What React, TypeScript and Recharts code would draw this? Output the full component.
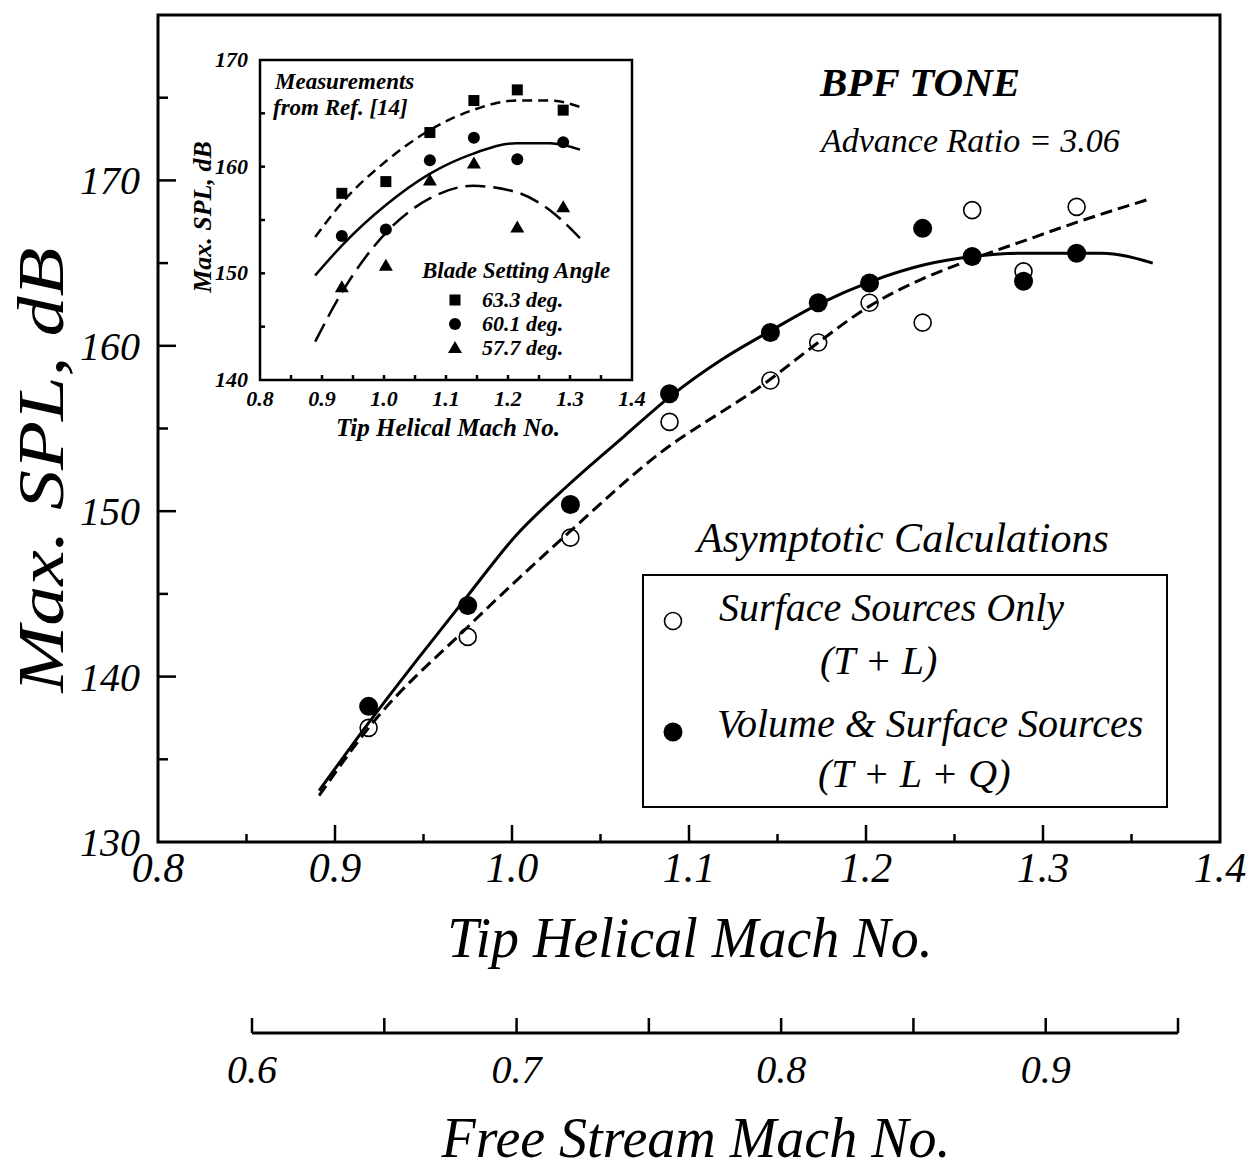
import React from 'react';
import { ComposedChart, Line, Scatter, XAxis, YAxis, ReferenceArea, Legend } from 'recharts';

const FONT = '"Liberation Serif", "Times New Roman", serif';

// main plot: asymptotic calculations, BPF tone
const tipMach = [0.919, 0.975, 1.033, 1.089, 1.146, 1.173, 1.202, 1.232, 1.26, 1.289, 1.319];
const surfaceOnlySpl = [136.9, 142.4, 148.4, 155.4, 157.9, 160.2, 162.6, 161.4, 168.2, 164.5, 168.4];
const volumeSurfaceSpl = [138.2, 144.3, 150.4, 157.1, 160.8, 162.6, 163.8, 167.1, 165.4, 163.9, 165.6];

// fitted curves drawn through the points
const solidFitMach = [0.891, 0.919, 0.947, 0.975, 1.002, 1.032, 1.063, 1.089, 1.119, 1.146, 1.173, 1.203, 1.233, 1.26, 1.288, 1.32, 1.333, 1.362];
const solidFitSpl = [133.1, 137.2, 141.1, 144.9, 148.5, 151.6, 154.5, 156.9, 159.2, 160.9, 162.5, 163.9, 164.9, 165.4, 165.6, 165.6, 165.6, 165.0];
const dashedFitMach = [0.891, 0.919, 0.975, 1.032, 1.081, 1.145, 1.173, 1.202, 1.231, 1.259, 1.288, 1.32, 1.361];
const dashedFitSpl = [132.8, 136.9, 143.0, 148.7, 153.3, 157.9, 160.2, 162.4, 164.0, 165.2, 166.3, 167.5, 168.9];

const mainXTicks = [0.8, 0.85, 0.9, 0.95, 1.0, 1.05, 1.1, 1.15, 1.2, 1.25, 1.3, 1.35, 1.4];
const mainXLabels = [0.8, 0.9, 1.0, 1.1, 1.2, 1.3, 1.4];
const mainYTicks = [130, 135, 140, 145, 150, 155, 160, 165, 170, 175];
const mainYLabels = [130, 140, 150, 160, 170];

const freeStreamTicks = [0.6, 0.65, 0.7, 0.75, 0.8, 0.85, 0.9, 0.95];
const freeStreamLabels = [0.6, 0.7, 0.8, 0.9];

// inset: measurements from Ref. [14]
const insetMach = [0.932, 1.003, 1.074, 1.145, 1.215, 1.289];
const angle633Spl = [157.5, 158.6, 163.2, 166.2, 167.2, 165.3];
const angle601Spl = [153.5, 154.1, 160.6, 162.7, 160.7, 162.3];
const angle577Spl = [148.7, 150.7, 158.7, 160.3, 154.3, 156.2];

const fitMach = [0.889, 0.932, 1.003, 1.073, 1.143, 1.214, 1.268, 1.316];
const fit633Spl = [153.4, 156.6, 160.5, 163.4, 165.3, 166.2, 166.2, 165.6];
const fit601Spl = [149.8, 152.6, 156.4, 159.3, 161.2, 162.2, 162.2, 161.6];
const fit577Spl = [143.6, 148.2, 153.8, 157.0, 158.2, 157.6, 155.9, 153.3];

const insetYTicks = [140, 145, 150, 155, 160, 165, 170];
const insetYLabels = [140, 150, 160, 170];

const pairs = (xs: number[], ys: number[]) => xs.map((mach, i) => ({ mach, spl: ys[i] }));

const surfaceOnlyData = pairs(tipMach, surfaceOnlySpl);
const volumeSurfaceData = pairs(tipMach, volumeSurfaceSpl);
const solidFitData = pairs(solidFitMach, solidFitSpl);
const dashedFitData = pairs(dashedFitMach, dashedFitSpl);
const angle633Data = pairs(insetMach, angle633Spl);
const angle601Data = pairs(insetMach, angle601Spl);
const angle577Data = pairs(insetMach, angle577Spl);
const fit633Data = pairs(fitMach, fit633Spl);
const fit601Data = pairs(fitMach, fit601Spl);
const fit577Data = pairs(fitMach, fit577Spl);
const freeStreamData = freeStreamTicks.map((fs) => ({ fs }));

const has = (list: number[], v: number) => list.some((t) => Math.abs(t - v) < 1e-6);

const txt = (size: number, bold = false) => ({
  fontFamily: FONT,
  fontStyle: 'italic' as const,
  fontWeight: bold ? 700 : 400,
  fontSize: size,
  fill: '#000',
});

// ticks point into the plot, labels sit outside
function BottomTick(props: any) {
  const { x, y, payload, labels, edges, major, minor, fontSize, offset, bold, width } = props;
  const v = payload.value;
  const isMajor = has(labels, v);
  return (
    <g>
      {!has(edges, v) && (
        <line x1={x} x2={x} y1={y} y2={y - (isMajor ? major : minor)} stroke="#000" strokeWidth={width} />
      )}
      {isMajor && (
        <text x={x} y={y + offset} textAnchor="middle" {...txt(fontSize, bold)}>
          {v.toFixed(1)}
        </text>
      )}
    </g>
  );
}

function LeftTick(props: any) {
  const { x, y, payload, labels, edges, major, minor, fontSize, gap, dy, bold, width } = props;
  const v = payload.value;
  const isMajor = has(labels, v);
  return (
    <g>
      {!has(edges, v) && (
        <line x1={x} x2={x + (isMajor ? major : minor)} y1={y} y2={y} stroke="#000" strokeWidth={width} />
      )}
      {isMajor && (
        <text x={x - gap} y={y + dy} textAnchor="end" {...txt(fontSize, bold)}>
          {v}
        </text>
      )}
    </g>
  );
}

const OpenDot = (p: any) => <circle cx={p.cx} cy={p.cy} r={8.5} fill="none" stroke="#000" strokeWidth={1.6} />;
const FilledDot = (p: any) => <circle cx={p.cx} cy={p.cy} r={9.5} fill="#000" />;
const SquareMark = (p: any) => <rect x={p.cx - 5.5} y={p.cy - 5.5} width={11} height={11} fill="#000" />;
const CircleMark = (p: any) => <circle cx={p.cx} cy={p.cy} r={6} fill="#000" />;
const TriangleMark = (p: any) => (
  <polygon points={`${p.cx},${p.cy - 7} ${p.cx + 7},${p.cy + 5} ${p.cx - 7},${p.cy + 5}`} fill="#000" />
);

const MainLegend = () => (
  <svg width={528} height={236} style={{ display: 'block' }}>
    <rect x={1} y={1} width={524} height={232} fill="none" stroke="#000" strokeWidth={2} />
    <circle cx={31} cy={47} r={8.5} fill="none" stroke="#000" strokeWidth={1.6} />
    <text x={77} y={47} {...txt(40)}>Surface Sources Only</text>
    <text x={178} y={100} {...txt(40)}>(T + L)</text>
    <circle cx={31} cy={158} r={9.5} fill="#000" />
    <text x={75} y={163} {...txt(40)}>Volume &amp; Surface Sources</text>
    <text x={176} y={213} {...txt(40)}>(T + L + Q)</text>
  </svg>
);

const InsetLegend = () => (
  <svg width={210} height={110} style={{ display: 'block' }}>
    <text x={7} y={23} {...txt(23, true)}>Blade Setting Angle</text>
    <rect x={34.5} y={39.5} width={11} height={11} fill="#000" />
    <text x={67} y={52} {...txt(22, true)}>63.3  deg.</text>
    <circle cx={40} cy={69} r={6} fill="#000" />
    <text x={67} y={76} {...txt(22, true)}>60.1  deg.</text>
    <polygon points="40,86 47,98 33,98" fill="#000" />
    <text x={67} y={100} {...txt(22, true)}>57.7  deg.</text>
  </svg>
);

function MainChart() {
  return (
    <ComposedChart width={1260} height={1168} margin={{ top: 15, right: 40, bottom: 266, left: 58 }}>
      <XAxis
        dataKey="mach"
        type="number"
        domain={[0.8, 1.4]}
        ticks={mainXTicks}
        interval={0}
        height={60}
        tickSize={0}
        tickMargin={0}
        axisLine={false}
        tickLine={false}
        tick={<BottomTick labels={mainXLabels} edges={[0.8, 1.4]} major={17} minor={8} fontSize={42} offset={40} width={2.5} />}
      />
      <YAxis
        dataKey="spl"
        type="number"
        domain={[130, 180]}
        ticks={mainYTicks}
        interval={0}
        width={100}
        tickSize={0}
        tickMargin={0}
        axisLine={false}
        tickLine={false}
        tick={<LeftTick labels={mainYLabels} edges={[130]} major={18} minor={10} fontSize={40} gap={18} dy={14} width={2.5} />}
      />
      <ReferenceArea x1={0.8} x2={1.4} y1={130} y2={180} fill="none" stroke="#000" strokeWidth={3} />
      <Line data={solidFitData} dataKey="spl" type="monotone" stroke="#000" strokeWidth={3} dot={false} legendType="none" isAnimationActive={false} />
      <Line data={dashedFitData} dataKey="spl" type="monotone" stroke="#000" strokeWidth={3} strokeDasharray="12 6" dot={false} legendType="none" isAnimationActive={false} />
      <Scatter name="Volume & Surface Sources (T + L + Q)" data={volumeSurfaceData} dataKey="spl" shape={FilledDot} isAnimationActive={false} />
      <Scatter name="Surface Sources Only (T + L)" data={surfaceOnlyData} dataKey="spl" shape={OpenDot} isAnimationActive={false} />
      <Legend
        layout="horizontal"
        verticalAlign="middle"
        align="center"
        content={() => <MainLegend />}
        wrapperStyle={{ position: 'absolute', left: 642, top: 574, width: 528, height: 236 }}
      />
      <text x={820} y={96} {...txt(41, true)}>BPF TONE</text>
      <text x={821} y={152} {...txt(34)}>Advance Ratio = 3.06</text>
      <text x={697} y={552} {...txt(42)}>Asymptotic Calculations</text>
      <text x={690} y={957} textAnchor="middle" {...txt(56)}>Tip Helical Mach No.</text>
      <text
        transform="translate(63, 470) rotate(-90)"
        textAnchor="middle"
        textLength={445}
        lengthAdjust="spacingAndGlyphs"
        {...txt(66)}
      >
        Max. SPL, dB
      </text>
    </ComposedChart>
  );
}

function FreeStreamAxis() {
  return (
    <ComposedChart width={1260} height={210} data={freeStreamData} margin={{ top: 10, right: 82, bottom: 0, left: 252 }}>
      <XAxis
        dataKey="fs"
        type="number"
        domain={[0.6, 0.95]}
        ticks={freeStreamTicks}
        interval={0}
        height={135}
        tickSize={0}
        tickMargin={0}
        axisLine={{ stroke: '#000', strokeWidth: 3 }}
        tickLine={false}
        tick={<BottomTick labels={freeStreamLabels} edges={[]} major={15} minor={15} fontSize={40} offset={50} width={2.5} />}
      />
      <YAxis hide domain={[0, 1]} />
      <text x={696} y={199} textAnchor="middle" {...txt(56)}>Free Stream Mach No.</text>
    </ComposedChart>
  );
}

function InsetChart() {
  return (
    <ComposedChart width={520} height={420} margin={{ top: 20, right: 38, bottom: 40, left: 50 }}>
      <XAxis
        dataKey="mach"
        type="number"
        domain={[0.8, 1.4]}
        ticks={mainXTicks}
        interval={0}
        height={40}
        tickSize={0}
        tickMargin={0}
        axisLine={false}
        tickLine={false}
        tick={<BottomTick labels={mainXLabels} edges={[0.8, 1.4]} major={5} minor={5} fontSize={22} offset={26} bold width={2.5} />}
      />
      <YAxis
        dataKey="spl"
        type="number"
        domain={[140, 170]}
        ticks={insetYTicks}
        interval={0}
        width={60}
        tickSize={0}
        tickMargin={0}
        axisLine={false}
        tickLine={false}
        tick={<LeftTick labels={insetYLabels} edges={[140, 170]} major={5} minor={5} fontSize={22} gap={12} dy={7} bold width={2.5} />}
      />
      <ReferenceArea x1={0.8} x2={1.4} y1={140} y2={170} fill="none" stroke="#000" strokeWidth={2.5} />
      <Line data={fit633Data} dataKey="spl" type="monotone" stroke="#000" strokeWidth={2.5} strokeDasharray="10 6" dot={false} legendType="none" isAnimationActive={false} />
      <Line data={fit601Data} dataKey="spl" type="monotone" stroke="#000" strokeWidth={2.5} dot={false} legendType="none" isAnimationActive={false} />
      <Line data={fit577Data} dataKey="spl" type="monotone" stroke="#000" strokeWidth={2.5} strokeDasharray="20 8" dot={false} legendType="none" isAnimationActive={false} />
      <Scatter name="63.3 deg." data={angle633Data} dataKey="spl" shape={SquareMark} isAnimationActive={false} />
      <Scatter name="60.1 deg." data={angle601Data} dataKey="spl" shape={CircleMark} isAnimationActive={false} />
      <Scatter name="57.7 deg." data={angle577Data} dataKey="spl" shape={TriangleMark} isAnimationActive={false} />
      <Legend
        layout="horizontal"
        verticalAlign="middle"
        align="center"
        content={() => <InsetLegend />}
        wrapperStyle={{ position: 'absolute', left: 265, top: 215, width: 210, height: 110 }}
      />
      <text x={125} y={49} {...txt(23, true)}>Measurements</text>
      <text x={123} y={75} {...txt(23, true)}>from Ref. [14]</text>
      <text x={298} y={396} textAnchor="middle" {...txt(25, true)}>Tip Helical Mach No.</text>
      <text transform="translate(61, 177) rotate(-90)" textAnchor="middle" {...txt(26, true)}>
        Max. SPL, dB
      </text>
    </ComposedChart>
  );
}

export default function App() {
  return (
    <div style={{ position: 'absolute', left: 0, top: 0, width: 1260, height: 1168, background: '#fff', overflow: 'hidden' }}>
      <div style={{ position: 'absolute', left: 0, top: 0 }}>
        <MainChart />
      </div>
      <div style={{ position: 'absolute', left: 0, top: 958 }}>
        <FreeStreamAxis />
      </div>
      <div style={{ position: 'absolute', left: 150, top: 40 }}>
        <InsetChart />
      </div>
    </div>
  );
}
